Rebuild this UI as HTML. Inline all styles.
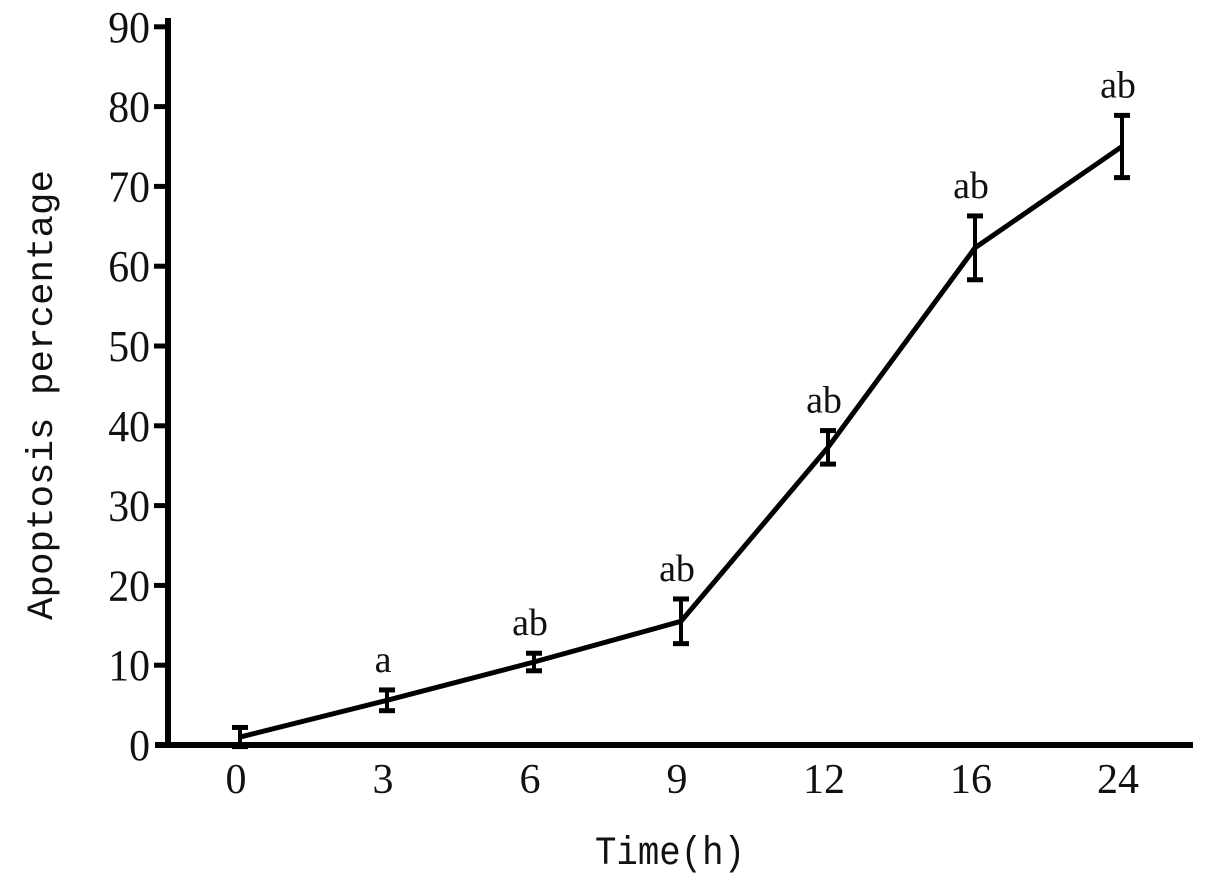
<!DOCTYPE html>
<html><head><meta charset="utf-8"><style>
body{margin:0;background:#fff;}
svg{display:block;}
</style></head><body>
<svg id="chart" width="1205" height="882" viewBox="0 0 1205 882" xmlns="http://www.w3.org/2000/svg">
<g id="axes"></g>
<g id="marks"></g>
<text transform="translate(52,395) rotate(-90)" text-anchor="middle" font-family="'Liberation Mono','Noto Sans CJK SC',monospace" font-size="37" textLength="450" lengthAdjust="spacingAndGlyphs" fill="#111">Apoptosis percentage</text>
<text x="670" y="864" text-anchor="middle" font-family="'Liberation Mono','Noto Sans CJK SC',monospace" font-size="40" textLength="150" lengthAdjust="spacingAndGlyphs" fill="#111">Time(h)</text>
</svg>
<script>
const categories = ["0","3","6","9","12","16","24"];
const values = [1.0, 5.6, 10.4, 15.5, 37.3, 62.3, 75.0];
const errors = [1.2, 1.3, 1.1, 2.8, 2.1, 4.0, 3.9];
const sigLabels = ["", "a", "ab", "ab", "ab", "ab", "ab"];
const yTicks = [0,10,20,30,40,50,60,70,80,90];

const NS = "http://www.w3.org/2000/svg";
const x0 = 240, dx = 147;
function xPos(i){ return x0 + i*dx; }
function yPos(v){ return 745 - v*7.98; }
function mk(tag, attrs, parent){
  const e = document.createElementNS(NS, tag);
  for (const k in attrs) e.setAttribute(k, attrs[k]);
  parent.appendChild(e); return e;
}
const axes = document.getElementById('axes');
const marks = document.getElementById('marks');
const serif = "'Liberation Serif',serif";

let yAxis = mk('line',{x1:168,y1:18,x2:168,y2:748,stroke:'#000','stroke-width':6},axes);


let xAxis = mk('line',{x1:155,y1:745,x2:1193,y2:745,stroke:'#000','stroke-width':6},axes);



yTicks.forEach(t=>{
  const y = yPos(t);
  if (t>0){
    const tk = mk('line',{x1:154,y1:y,x2:168,y2:y,stroke:'#000','stroke-width':5},axes);
    
    
  }
  const lb = mk('text',{x:150,y:y+15,'text-anchor':'end','font-family':serif,'font-size':44,fill:'#111',transform:'translate(150,0) scale(0.95,1) translate(-150,0)'},axes);
  lb.textContent = t;
  
  
});
categories.forEach((c,i)=>{
  const lb = mk('text',{x:xPos(i)-4,y:793,'text-anchor':'middle','font-family':serif,'font-size':42,fill:'#111'},axes);
  lb.textContent = c;
  
  
});

const pts = values.map((v,i)=>xPos(i)+','+yPos(v)).join(' ');
const line = mk('polyline',{points:pts,fill:'none',stroke:'#000','stroke-width':5,'stroke-linejoin':'miter'},marks);



values.forEach((v,i)=>{
  const x = xPos(i), yt = yPos(v+errors[i]), yb = yPos(v-errors[i]);
  const g = mk('g',{},marks);
  
  
  mk('line',{x1:x,y1:yt,x2:x,y2:yb,stroke:'#000','stroke-width':4},g);
  mk('line',{x1:x-8,y1:yt,x2:x+8,y2:yt,stroke:'#000','stroke-width':5},g);
  mk('line',{x1:x-8,y1:yb,x2:x+8,y2:yb,stroke:'#000','stroke-width':5},g);
  if (sigLabels[i]){
    const s = mk('text',{x:x-4,y:yt-18,'text-anchor':'middle','font-family':serif,'font-size':38,fill:'#111'},marks);
    s.textContent = sigLabels[i];
    
    
  }
});
</script>
</body></html>
